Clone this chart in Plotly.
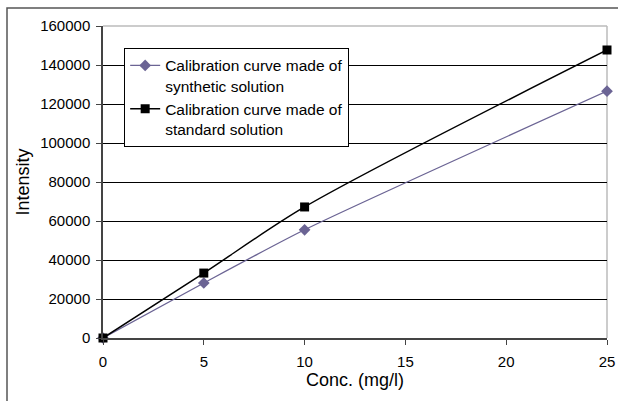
import plotly.graph_objects as go

conc = [0, 5, 10, 25]
synthetic = [0, 28200, 55500, 126600]
standard = [0, 33300, 67200, 147700]
x_ticks = [0, 5, 10, 15, 20, 25]
y_ticks = [0, 20000, 40000, 60000, 80000, 100000, 120000, 140000, 160000]

fig = go.Figure()
fig.add_trace(go.Scatter(
    x=conc, y=synthetic, mode="lines+markers",
    name="Calibration curve made of<br>synthetic solution",
    line=dict(color="#6b6494", width=1.3, shape="spline", smoothing=0.6),
    marker=dict(symbol="diamond", size=9, color="#6b6494"),
    cliponaxis=False,
))
fig.add_trace(go.Scatter(
    x=conc, y=standard, mode="lines+markers",
    name="Calibration curve made of<br>standard solution",
    line=dict(color="black", width=1.5, shape="spline", smoothing=0.8),
    marker=dict(symbol="square", size=9, color="black"),
    cliponaxis=False,
))

font = dict(family="Liberation Sans, Arial, sans-serif", color="black")

fig.update_layout(
    width=618, height=401,
    margin=dict(l=103, r=11, t=26, b=63),
    paper_bgcolor="white", plot_bgcolor="white",
    font=dict(size=15, **font),
    showlegend=True,
    legend=dict(
        x=0.042, y=0.93, xanchor="left", yanchor="top",
        bgcolor="white", bordercolor="black", borderwidth=1,
        font=dict(size=15.5, **font), tracegroupgap=0,
        itemwidth=30, valign="top",
    ),
    xaxis=dict(
        range=[0, 25], tickvals=x_ticks, ticks="outside", ticklen=5,
        tickcolor="#444", showgrid=False, zeroline=False, automargin=False,
        showline=True, linecolor="#444", linewidth=1.5, mirror=False,
        title=dict(text="Conc. (mg/l)", font=dict(size=18, **font), standoff=4),
        tickfont=dict(size=15, **font), ticklabelstandoff=4,
    ),
    yaxis=dict(
        range=[0, 160000], tickvals=y_ticks, tickformat="d", automargin=False,
        ticks="outside", ticklen=5,
        tickcolor="#444", showgrid=True, gridcolor="black", gridwidth=1,
        zeroline=False, showline=True, linecolor="#444", linewidth=1.5,
        title=dict(text="Intensity", font=dict(size=18, **font), standoff=6),
        tickfont=dict(size=15, **font), ticklabelstandoff=3,
    ),
)

# light grey frame on top and right of plot area
fig.add_shape(type="line", xref="paper", yref="paper", x0=0, x1=1, y0=1, y1=1,
              line=dict(color="#bbbbbb", width=1.5), layer="below")
fig.add_shape(type="line", xref="paper", yref="paper", x0=1, x1=1, y0=0, y1=1,
              line=dict(color="#bbbbbb", width=1.5), layer="below")
# outer chart border (cropped at right/bottom)
fig.add_shape(type="rect", xref="paper", yref="paper",
              x0=-96/504, x1=1 + 100/504, y0=-150/312, y1=1 + 18/312,
              line=dict(color="#555555", width=1.5))

fig.write_html("out.html", config={"displayModeBar": False},
               post_script="document.body.style.margin='0';document.body.style.overflow='hidden';")
